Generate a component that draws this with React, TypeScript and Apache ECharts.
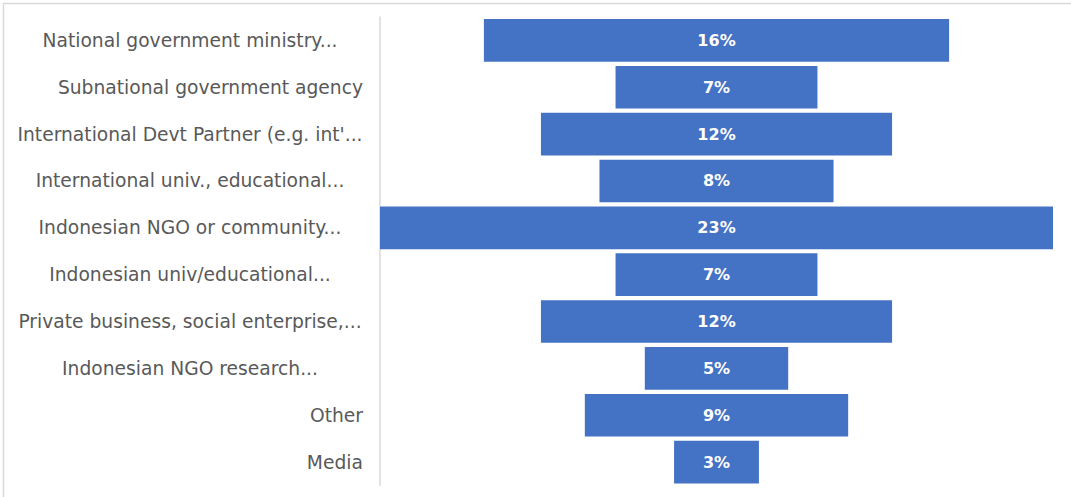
import React, { useEffect, useRef } from "react";
import * as echarts from "echarts";

const categories = [
  "National government ministry...",
  "Subnational government agency",
  "International Devt Partner (e.g. int'...",
  "International univ., educational...",
  "Indonesian NGO or community...",
  "Indonesian univ/educational...",
  "Private business, social enterprise,...",
  "Indonesian NGO research...",
  "Other",
  "Media",
];

const values = [15.9, 6.9, 12.0, 8.0, 23.0, 6.9, 12.0, 4.9, 9.0, 2.9];

const maxValue = Math.max(...values);
const offsets = values.map((v) => (maxValue - v) / 2);

const FONT = "DejaVu Sans";
const LABEL_SIZE = 18.7;

export default function App() {
  const ref = useRef<HTMLDivElement>(null);

  useEffect(() => {
    if (!ref.current) return;
    const chart = echarts.init(ref.current, undefined, { renderer: "svg" });
    chart.setOption({
      animation: false,
      backgroundColor: "#ffffff",
      textStyle: { fontFamily: FONT },
      grid: { left: 380, right: 18, top: 17, bottom: 11.5, containLabel: false },
      xAxis: {
        type: "value",
        min: 0,
        max: maxValue,
        show: false,
      },
      yAxis: {
        type: "category",
        inverse: true,
        data: categories,
        axisLine: { show: true, lineStyle: { color: "#d9d9d9", width: 1.5 } },
        axisTick: { show: false },
        axisLabel: {
          margin: 17,
          color: "#595959",
          fontSize: LABEL_SIZE,
          fontFamily: FONT,
          align: "right",
          formatter: (v: string) =>
            v.endsWith("...") ? "{c|" + v + "}" : "{r|" + v + "}",
          rich: {
            c: { width: 346, align: "center", color: "#595959", fontSize: LABEL_SIZE, fontFamily: FONT },
            r: { width: 346, align: "right", color: "#595959", fontSize: LABEL_SIZE, fontFamily: FONT },
          },
        },
      },
      graphic: [
        { type: "line", shape: { x1: 3, y1: 3.5, x2: 1071, y2: 3.5 }, style: { stroke: "#d9d9d9", lineWidth: 1.5 } },
        { type: "line", shape: { x1: 3.5, y1: 3, x2: 3.5, y2: 497 }, style: { stroke: "#d9d9d9", lineWidth: 1.5 } },
      ],
      series: [
        {
          type: "bar",
          stack: "funnel",
          data: offsets,
          itemStyle: { color: "transparent" },
          barCategoryGap: "9%",
          silent: true,
        },
        {
          type: "bar",
          stack: "funnel",
          data: values,
          barCategoryGap: "9%",
          itemStyle: { color: "#4472C4" },
          label: {
            show: true,
            position: "inside",
            color: "#ffffff",
            fontSize: 16,
            fontFamily: FONT,
            fontWeight: "bold",
            formatter: (p: any) => Math.round(p.value) + "%",
          },
        },
      ],
    });
    return () => chart.dispose();
  }, []);

  return (
    <div
      ref={ref}
      style={{ position: "fixed", left: 0, top: 0, width: 1071, height: 497 }}
    />
  );
}
